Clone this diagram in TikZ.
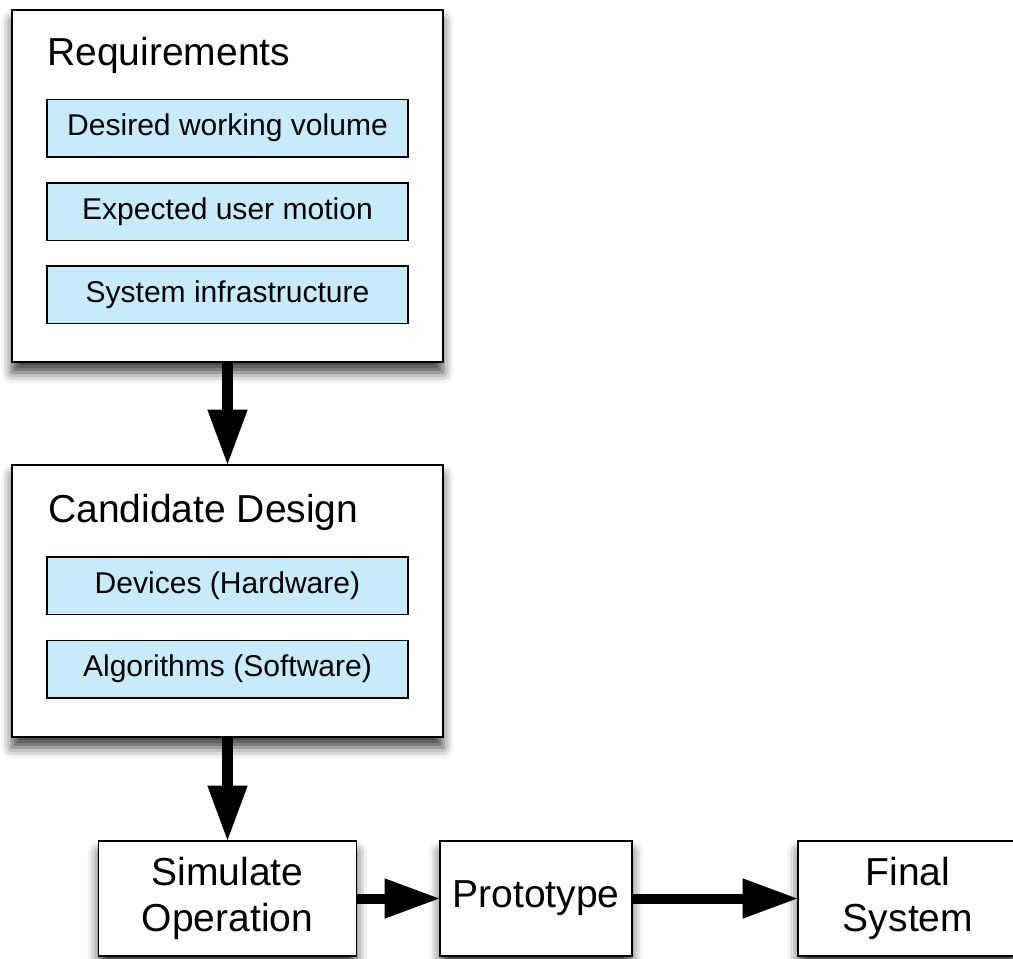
\documentclass[tikz,border=0pt]{standalone}
\usepackage{fontspec}
\setmainfont{Liberation Sans}
\usepackage{xcolor}
\usetikzlibrary{positioning,calc,arrows.meta,shadows.blur}

\definecolor{itemblue}{RGB}{199,235,251}

\begin{document}
\begin{tikzpicture}[
    panel/.style={draw, line width=1.1pt, fill=white, minimum width=8.62cm,
        blur shadow={shadow xshift=0pt, shadow yshift=-6pt, shadow blur radius=6pt, shadow opacity=75}},
    item/.style={draw, line width=0.85pt, fill=itemblue, minimum width=7.22cm, minimum height=1.15cm,
        font=\fontsize{17.1}{20}\selectfont},
    heading/.style={anchor=base west, inner sep=0pt, font=\fontsize{22.2}{26}\selectfont},
    stage/.style={draw, line width=1.1pt, fill=white, minimum height=2.30cm, align=center,
        font=\fontsize{22.2}{26}\selectfont,
        blur shadow={shadow xshift=0pt, shadow yshift=-6pt, shadow blur radius=6pt, shadow opacity=75}},
    flow/.style={line width=5.7pt, -{Triangle[width=23pt,length=31pt,line width=0pt]}}
]
    \useasboundingbox (0,0) rectangle (20.26,-19.16);

    % Requirements
    \node[panel, minimum height=7.04cm] (req) at (4.55,-3.72) {};
    \node[heading] (reqtitle) at (0.94,-1.30) {Requirements};
    \node[item] (volume) at (4.55,-2.56) {Desired working volume};
    \node[item] (motion) at (4.55,-4.23) {Expected user motion};
    \node[item] (infra) at (4.55,-5.89) {System infrastructure};

    % Candidate design
    \node[panel, minimum height=5.44cm] (cand) at (4.55,-12.02) {};
    \node[heading] (candtitle) at (0.96,-10.44) {Candidate Design};
    \node[item] (hw) at (4.55,-11.71) {Devices (Hardware)};
    \node[item] (sw) at (4.55,-13.38) {Algorithms (Software)};

    % Stages
    \node[stage, minimum width=5.16cm] (sim) at (4.55,-17.97) {Simulate\\Operation};
    \node[stage, minimum width=3.84cm] (proto) at (10.72,-17.97) {Prototype};
    \node[stage, minimum width=4.40cm] (final) at (18.16,-17.97) {Final\\System};

    % Flow
    \draw[flow] (req) -- (cand);
    \draw[flow] (cand) -- (sim);
    \draw[flow] (sim) -- (proto);
    \draw[flow] (proto) -- (final);
\end{tikzpicture}
\end{document}
